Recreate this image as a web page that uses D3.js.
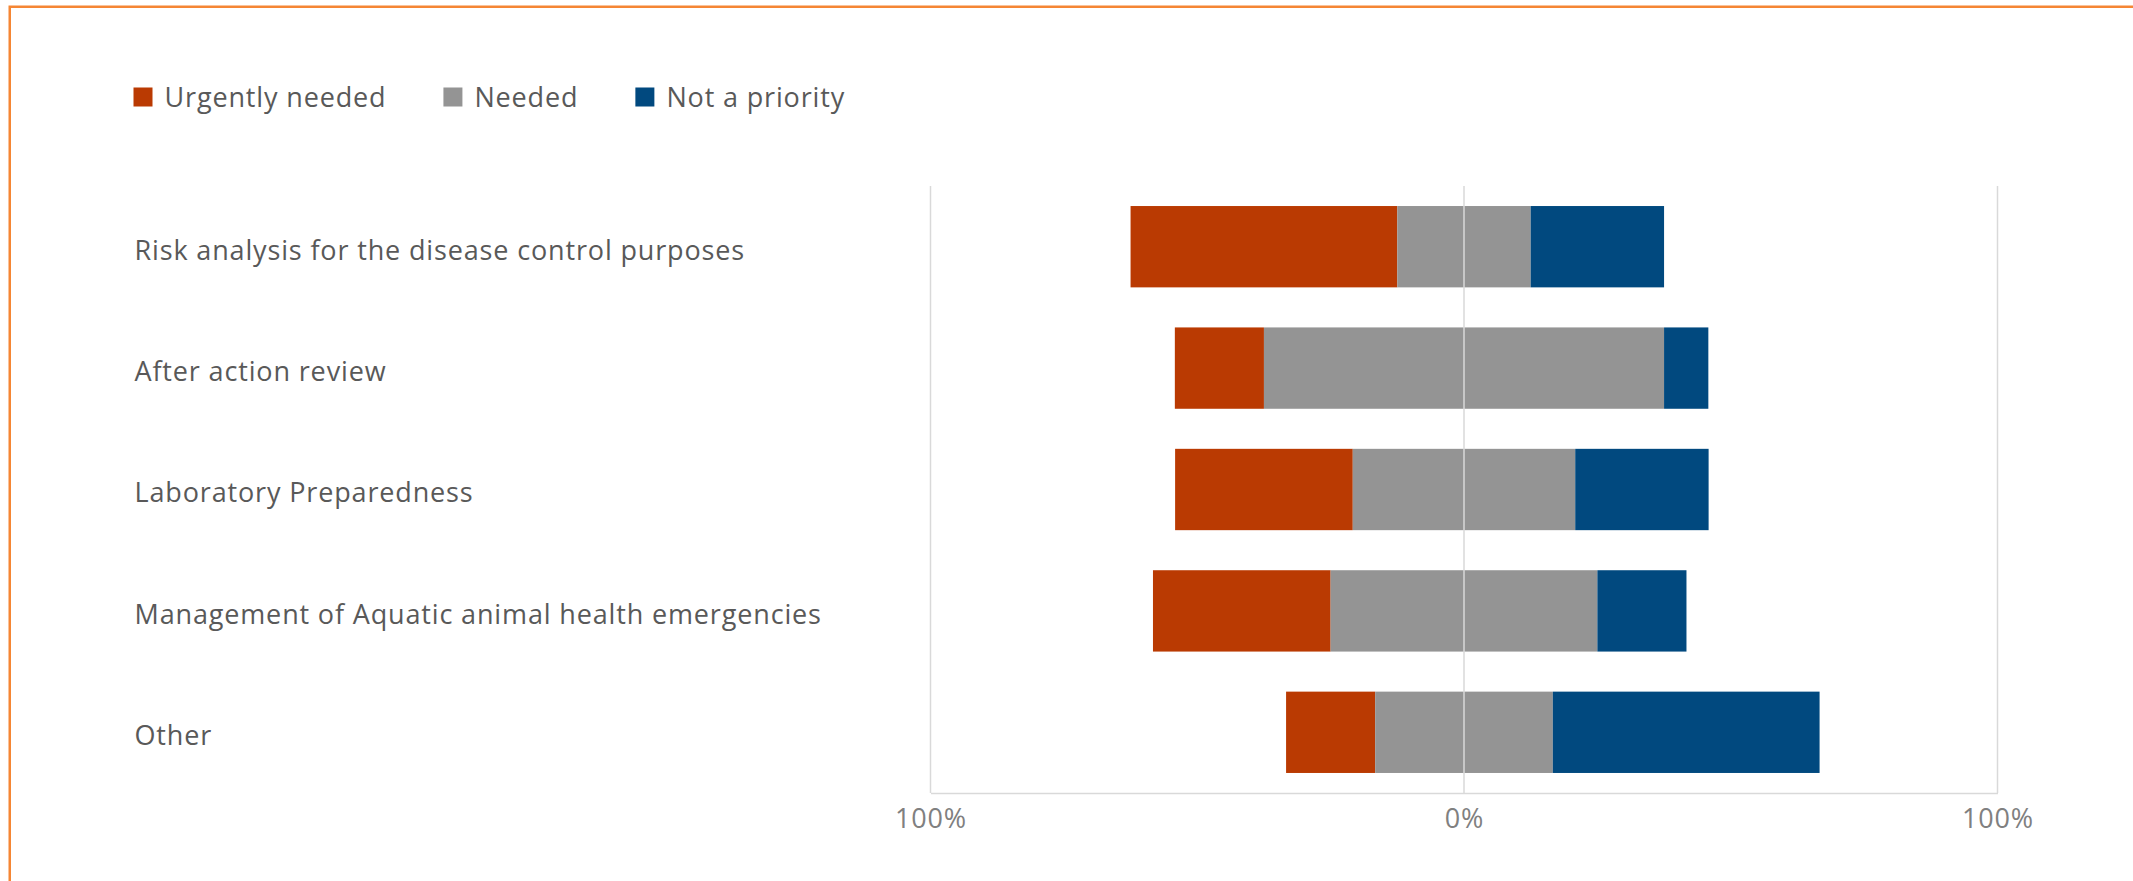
<!DOCTYPE html>
<html lang="en">
<head>
<meta charset="UTF-8">
<title>Diverging bars</title>
<script src="https://d3js.org/d3.v7.min.js"></script>
<style>
  body { margin: 0; background: #fff; }
  text { font-family: "Open Sans", "Noto Sans", sans-serif; letter-spacing: 0.85px; }
</style>
</head>
<body>
<div id="chart"></div>
<script>
// data (percent of respondents)
const categories = [
  "Risk analysis for the disease control purposes",
  "After action review",
  "Laboratory Preparedness",
  "Management of Aquatic animal health emergencies",
  "Other"
];
const urgentlyNeeded = [50, 16.7, 33.3, 33.3, 16.7];
const needed = [25, 75, 41.7, 50, 33.3];
const notPriority = [25, 8.3, 25, 16.7, 50];
const seriesNames = ["Urgently needed", "Needed", "Not a priority"];
const tickValues = [-100, 0, 100];

const colors = ["#BA3A02", "#949494", "#01497F"];

const W = 2133, H = 881;
const svg = d3.select("#chart").append("svg")
  .attr("width", W).attr("height", H);

// orange frame (continues past right and bottom edge)
svg.append("rect")
  .attr("x", 9.75).attr("y", 6.75)
  .attr("width", W + 20).attr("height", H + 20)
  .attr("fill", "none")
  .attr("stroke", "#F58634")
  .attr("stroke-width", 2.5);

const x = d3.scaleLinear().domain([-100, 100]).range([930.5, 1997.5]);
const y = d3.scaleBand().domain(categories).range([186, 793])
  .paddingInner(0.33).paddingOuter(0.165);

// gridlines at -100 and 100
svg.append("g").selectAll("line")
  .data([-100, 100])
  .join("line")
  .attr("x1", d => x(d)).attr("x2", d => x(d))
  .attr("y1", 186).attr("y2", 793)
  .attr("stroke", "#D9D9D9").attr("stroke-width", 1.5);

// build stacked segments, centred on the middle of "Needed"
const rows = categories.map((c, i) => {
  const u = urgentlyNeeded[i], n = needed[i], p = notPriority[i];
  const start = -(u + n / 2);
  return [
    { cat: c, s: 0, x0: start, x1: start + u },
    { cat: c, s: 1, x0: start + u, x1: start + u + n },
    { cat: c, s: 2, x0: start + u + n, x1: start + u + n + p }
  ];
});

svg.append("g").selectAll("rect")
  .data(rows.flat())
  .join("rect")
  .attr("x", d => x(d.x0))
  .attr("width", d => x(d.x1) - x(d.x0))
  .attr("y", d => y(d.cat))
  .attr("height", y.bandwidth())
  .attr("fill", d => colors[d.s]);

// zero line on top of bars
svg.append("line")
  .attr("x1", x(0)).attr("x2", x(0))
  .attr("y1", 186).attr("y2", 793)
  .attr("stroke", "#D9D9D9").attr("stroke-width", 1.5);

// bottom axis
const axis = svg.append("g")
  .attr("transform", "translate(0,793)")
  .call(d3.axisBottom(x).tickValues(tickValues).tickSize(0).tickPadding(16)
    .tickFormat(d => Math.abs(d) + "%"));
axis.select(".domain").attr("stroke", "#D9D9D9").attr("stroke-width", 1.5);
axis.selectAll("text")
  .attr("fill", "#808080")
  .style("font-size", "27px")
  .style("font-family", "'Open Sans', sans-serif");

// category labels
svg.append("g").selectAll("text")
  .data(categories)
  .join("text")
  .attr("x", 134.5)
  .attr("y", d => y(d) + y.bandwidth() / 2)
  .attr("dy", "0.48em")
  .attr("fill", "#595959")
  .style("font-size", "27px")
  .text(d => d);

// legend
const legend = svg.append("g").attr("transform", "translate(133.5,97)");
let lx = 0;
seriesNames.forEach((name, i) => {
  const g = legend.append("g").attr("transform", `translate(${lx},0)`);
  g.append("rect").attr("x", 0).attr("y", -9.5).attr("width", 19).attr("height", 19)
    .attr("fill", colors[i]);
  const t = g.append("text").attr("x", 31).attr("dy", "0.36em")
    .attr("fill", "#595959").style("font-size", "27px").text(name);
  lx += 31 + t.node().getComputedTextLength() + 57;
});
</script>
</body>
</html>
